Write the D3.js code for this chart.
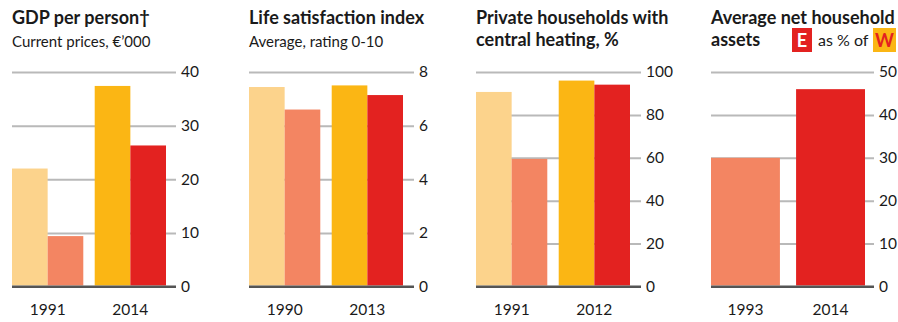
<!DOCTYPE html>
<html>
<head>
<meta charset="utf-8">
<script src="https://cdn.jsdelivr.net/npm/d3@7"></script>
<style>
  html, body { margin: 0; padding: 0; background: #fff; }
  svg { display: block; }
  text { font-family: Lato, "Open Sans", sans-serif; fill: #1a1a1a; }
</style>
</head>
<body>
<svg id="chart" width="898" height="322"></svg>
<script>
// Four small bar panels: East (E) vs West (W) Germany
const gdpYears = ["1991", "2014"];
const gdpWest = [22.0, 37.4];
const gdpEast = [9.4, 26.3];
const gdpTicks = [0, 10, 20, 30, 40];

const lifeYears = ["1990", "2013"];
const lifeWest = [7.44, 7.5];
const lifeEast = [6.6, 7.14];
const lifeTicks = [0, 2, 4, 6, 8];

const heatYears = ["1991", "2012"];
const heatWest = [90.7, 96.0];
const heatEast = [59.5, 94.1];
const heatTicks = [0, 20, 40, 60, 80, 100];

const assetYears = ["1993", "2014"];
const assetEastPct = [30, 46];
const assetTicks = [0, 10, 20, 30, 40, 50];

const colors = {
  westEarly: "#fcd38c",
  eastEarly: "#f38562",
  westLate: "#fbb614",
  eastLate: "#e32220"
};

const svg = d3.select("#chart");
const yTop = 72, yBottom = 286.5;

const panels = [
  { left: 12, pad: 0.138, axisW: 164, title: ["GDP per person\u2020"], sub: "Current prices, \u20AC\u2019000",
    years: gdpYears, series: [gdpWest, gdpEast], ticks: gdpTicks },
  { left: 249, pad: 0.138, axisW: 165, title: ["Life satisfaction index"], sub: "Average, rating 0-10",
    years: lifeYears, series: [lifeWest, lifeEast], ticks: lifeTicks },
  { left: 476, pad: 0.138, axisW: 165, title: ["Private households with", "central heating, %"], sub: null,
    years: heatYears, series: [heatWest, heatEast], ticks: heatTicks },
  { left: 711, pad: 0.19, axisW: 163, title: ["Average net household", "assets"], sub: null,
    years: assetYears, series: [assetEastPct], ticks: assetTicks, legend: true }
];

panels.forEach(p => {
  const g = svg.append("g");
  const plotW = 154, axisW = p.axisW;

  const y = d3.scaleLinear()
    .domain([0, d3.max(p.ticks)])
    .range([yBottom, yTop]);
  const x = d3.scaleBand()
    .domain(p.years)
    .range([p.left, p.left + plotW])
    .paddingInner(p.pad)
    .paddingOuter(0);
  const sub = d3.scaleBand()
    .domain(d3.range(p.series.length))
    .range([0, x.bandwidth()]);

  // gridlines and value labels on the right
  const axis = d3.axisRight(y)
    .tickValues(p.ticks)
    .tickSize(axisW)
    .tickPadding(5)
    .tickFormat(d3.format("d"));
  const ag = g.append("g")
    .attr("transform", `translate(${p.left},0)`)
    .call(axis);
  ag.select(".domain").remove();
  ag.selectAll(".tick line")
    .attr("stroke", d => d === 0 ? "#555" : "#b9b9b9")
    .attr("stroke-width", 2);
  ag.selectAll(".tick text")
    .attr("font-size", 15.5)
    .attr("fill", "#1a1a1a")
    .style("font-family", "Lato, sans-serif");

  // bars
  p.years.forEach((yr, i) => {
    p.series.forEach((vals, s) => {
      let fill;
      if (p.series.length === 1) fill = i === 0 ? colors.eastEarly : colors.eastLate;
      else if (s === 0) fill = i === 0 ? colors.westEarly : colors.westLate;
      else fill = i === 0 ? colors.eastEarly : colors.eastLate;
      g.append("rect")
        .attr("x", x(yr) + sub(s))
        .attr("width", sub.bandwidth())
        .attr("y", y(vals[i]))
        .attr("height", y(0) - y(vals[i]) - 1)
        .attr("fill", fill);
    });
    g.append("text")
      .attr("x", x(yr) + x.bandwidth() / 2)
      .attr("y", 315)
      .attr("text-anchor", "middle")
      .attr("font-size", 15.5)
      .text(yr);
  });

  // re-draw the baseline over the bars
  g.append("line")
    .attr("x1", p.left).attr("x2", p.left + axisW)
    .attr("y1", y(0)).attr("y2", y(0))
    .attr("stroke", "#555").attr("stroke-width", 2);

  // headings
  p.title.forEach((t, k) => {
    g.append("text")
      .attr("x", p.left)
      .attr("y", 24 + k * 22)
      .attr("font-size", 18)
      .attr("font-weight", "bold")
      .text(t);
  });
  if (p.sub) {
    g.append("text")
      .attr("x", p.left)
      .attr("y", 47)
      .attr("font-size", 15)
      .text(p.sub);
  }

  if (p.legend) {
    const lg = g.append("g");
    lg.append("rect").attr("x", 792).attr("y", 28).attr("width", 20).attr("height", 24)
      .attr("fill", colors.eastLate);
    lg.append("text").attr("x", 802).attr("y", 46.5).attr("text-anchor", "middle")
      .attr("font-size", 18).attr("font-weight", "bold").style("fill", "#fff").text("E");
    lg.append("text").attr("x", 818).attr("y", 46).attr("font-size", 16).text("as % of");
    lg.append("rect").attr("x", 873).attr("y", 28).attr("width", 23).attr("height", 24)
      .attr("fill", colors.westLate);
    lg.append("text").attr("x", 884.5).attr("y", 46.5).attr("text-anchor", "middle")
      .attr("font-size", 18).attr("font-weight", "bold").style("fill", colors.eastLate).text("W");
  }
});
</script>
</body>
</html>
